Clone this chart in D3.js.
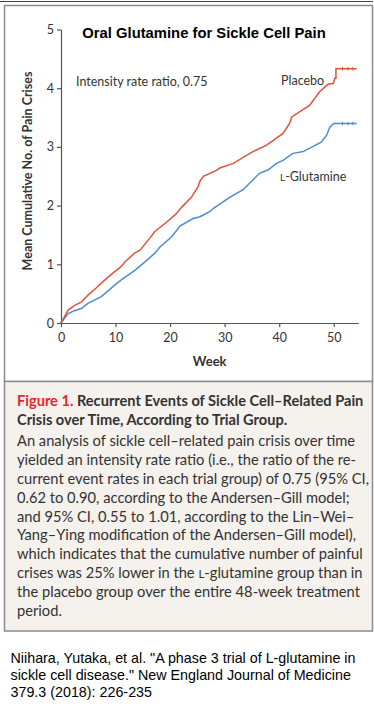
<!DOCTYPE html>
<html>
<head>
<meta charset="utf-8">
<script src="https://cdn.jsdelivr.net/npm/d3@7"></script>
<style>
  body { margin: 0; background: #fff; }
  svg { display: block; }
</style>
</head>
<body>
<svg id="chart" width="374" height="724"></svg>
<script>
// mean cumulative number of pain crises
var placeboWeeks = [0, 1.3, 2.5, 3.8, 5, 6.5, 8, 9.5, 11, 11.7, 13.6, 14.5, 16.3, 17.2, 19.4, 21, 22.1, 23.9, 25.1, 25.5, 26.1, 28.5, 29.1, 31.6, 34.6, 35.2, 37.7, 40.7, 41.9, 42.3, 45.6, 47.4, 49, 49.9, 50.2, 50.4, 50.4, 54.2];
var placeboValues = [0, 0.22, 0.30, 0.36, 0.48, 0.60, 0.73, 0.85, 0.96, 1.04, 1.2, 1.24, 1.45, 1.56, 1.72, 1.85, 1.97, 2.14, 2.32, 2.42, 2.50, 2.60, 2.64, 2.72, 2.89, 2.92, 3.03, 3.23, 3.40, 3.51, 3.71, 3.94, 4.07, 4.08, 4.17, 4.17, 4.33, 4.33];
var glutWeeks = [0, 1.3, 2.5, 3.8, 5, 7.4, 9.9, 11.1, 13.6, 15.5, 17.2, 18.1, 20.3, 21.8, 24.2, 25.5, 27.3, 27.9, 30.3, 31.6, 33.4, 35.2, 36.4, 38, 39.5, 40.7, 42.5, 44.4, 47.7, 48.7, 49.3, 50, 54.2];
var glutValues = [0, 0.16, 0.21, 0.25, 0.34, 0.45, 0.65, 0.74, 0.90, 1.05, 1.19, 1.29, 1.47, 1.65, 1.78, 1.81, 1.90, 1.95, 2.10, 2.18, 2.27, 2.44, 2.55, 2.61, 2.72, 2.77, 2.89, 2.92, 3.08, 3.20, 3.34, 3.40, 3.40];
var censorWeeks = [51.6, 52.6, 53.5];
var xTicks = [0, 10, 20, 30, 40, 50];
var yTicks = [0, 1, 2, 3, 4, 5];

var bodyLines = [
    "An analysis of sickle cell\u2013related pain crisis over time",
    "yielded an intensity rate ratio (i.e., the ratio of the re-",
    "current event rates in each trial group) of 0.75 (95% CI,",
    "0.62 to 0.90, according to the Andersen\u2013Gill model;",
    "and 95% CI, 0.55 to 1.01, according to the Lin\u2013Wei\u2013",
    "Yang\u2013Ying modification of the Andersen\u2013Gill model),",
    "which indicates that the cumulative number of painful",
    "crises was 25% lower in the |L|-glutamine group than in",
    "the placebo group over the entire 48-week treatment",
    "period."
];
var citeLines = [
    "Niihara, Yutaka, et al. \"A phase 3 trial of L-glutamine in",
    "sickle cell disease.\" New England Journal of Medicine",
    "379.3 (2018): 226-235"
];

var red = "#e0533b", blue = "#4a8dd6", ink = "#333";
var font = "Lato, 'Open Sans', sans-serif";

var svg = d3.select("#chart");

// frames
svg.append("line").attr("x1", 0).attr("x2", 373).attr("y1", 1.5).attr("y2", 1.5)
    .attr("stroke", "#444").attr("stroke-width", 1);
svg.append("rect").attr("x", 4.5).attr("y", 5.5).attr("width", 368).attr("height", 376)
    .attr("fill", "#fff").attr("stroke", "#8c8c8c").attr("stroke-width", 1.5);
svg.append("rect").attr("x", 4.5).attr("y", 381.5).attr("width", 368).attr("height", 249.5)
    .attr("fill", "#f5f1ec").attr("stroke", "#8c8c8c").attr("stroke-width", 1.5);

var x = d3.scaleLinear().domain([0, 54.5]).range([61, 358.3]);
var y = d3.scaleLinear().domain([0, 5]).range([323, 29.5]);

var xAxis = svg.append("g").attr("transform", "translate(0," + y(0) + ")")
    .call(d3.axisBottom(x).tickValues(xTicks).tickSize(4).tickSizeOuter(0));
var yAxis = svg.append("g").attr("transform", "translate(" + x(0) + ",0)")
    .call(d3.axisLeft(y).tickValues(yTicks).tickFormat(d3.format("d")).tickSize(4).tickSizeOuter(0));
[xAxis, yAxis].forEach(function (a) {
    a.select(".domain").attr("stroke", "#555").attr("stroke-width", 1.2);
    a.selectAll(".tick line").attr("stroke", "#555").attr("stroke-width", 1.2);
    a.selectAll(".tick text").attr("fill", ink).attr("font-family", font).attr("font-size", 12.5);
});
xAxis.selectAll(".tick text").attr("dy", "0.95em");
yAxis.selectAll(".tick text").attr("x", -7);

var line = d3.line().x(function (d) { return x(d[0]); }).y(function (d) { return y(d[1]); });
var series = [
    { weeks: glutWeeks, values: glutValues, color: blue },
    { weeks: placeboWeeks, values: placeboValues, color: red }
];
series.forEach(function (s) {
    var pts = s.weeks.map(function (w, i) { return [w, s.values[i]]; });
    svg.append("path").datum(pts).attr("d", line)
        .attr("fill", "none").attr("stroke", s.color).attr("stroke-width", 1.5);
    var last = s.values[s.values.length - 1];
    svg.selectAll(null).data(censorWeeks).enter().append("line")
        .attr("x1", function (d) { return x(d); }).attr("x2", function (d) { return x(d); })
        .attr("y1", y(last) - 1.8).attr("y2", y(last) + 1.8)
        .attr("stroke", s.color).attr("stroke-width", 1);
});

// titles and labels
svg.append("text").attr("x", 204).attr("y", 38.3).attr("text-anchor", "middle")
    .attr("font-family", "Arial, 'Liberation Sans', sans-serif").attr("font-weight", "bold")
    .attr("font-size", 14.8).attr("fill", "#000").text("Oral Glutamine for Sickle Cell Pain");
svg.append("text").attr("x", 76).attr("y", 86).attr("font-family", font).attr("font-size", 12.5)
    .attr("fill", ink).text("Intensity rate ratio, 0.75");
svg.append("text").attr("x", 281).attr("y", 84.5).attr("font-family", font).attr("font-size", 12.5)
    .attr("fill", ink).text("Placebo");
var gl = svg.append("text").attr("x", 280).attr("y", 181).attr("font-family", font)
    .attr("font-size", 12.5).attr("fill", ink);
gl.append("tspan").attr("font-size", 10).text("L");
gl.append("tspan").text("-Glutamine");

svg.append("text").attr("transform", "translate(32,171) rotate(-90)").attr("text-anchor", "middle")
    .attr("font-family", font).attr("font-weight", "bold").attr("font-size", 12.5).attr("fill", ink)
    .text("Mean Cumulative No. of Pain Crises");
svg.append("text").attr("x", 209.7).attr("y", 365.5).attr("text-anchor", "middle")
    .attr("font-family", font).attr("font-weight", "bold").attr("font-size", 13).attr("fill", ink)
    .text("Week");

// caption
var t1 = svg.append("text").attr("x", 17).attr("y", 405.5).attr("font-family", font)
    .attr("font-weight", "bold").attr("font-size", 14.6).attr("fill", ink);
t1.append("tspan").attr("fill", "#e8262b").text("Figure 1.");
t1.append("tspan").text(" Recurrent Events of Sickle Cell\u2013Related Pain");
svg.append("text").attr("x", 17).attr("y", 425).attr("font-family", font)
    .attr("font-weight", "bold").attr("font-size", 14.6).attr("fill", ink)
    .text("Crisis over Time, According to Trial Group.");

bodyLines.forEach(function (l, i) {
    var t = svg.append("text").attr("x", 17).attr("y", 446.3 + i * 18.8)
        .attr("font-family", font).attr("font-size", 14.7).attr("fill", ink);
    l.split("|").forEach(function (part, j) {
        t.append("tspan").attr("font-size", j === 1 ? 11.5 : null).text(part);
    });
});

citeLines.forEach(function (l, i) {
    svg.append("text").attr("x", 10.5).attr("y", 663.3 + i * 16.7)
        .attr("font-family", "Arial, 'Liberation Sans', sans-serif").attr("font-size", 14.3)
        .attr("fill", "#000").text(l);
});
</script>
</body>
</html>
